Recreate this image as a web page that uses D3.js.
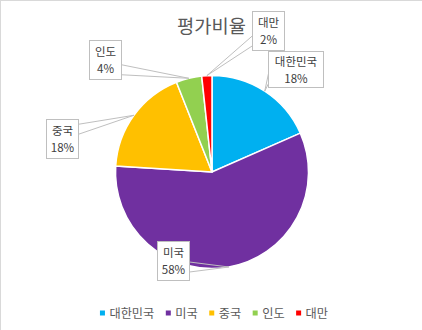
<!DOCTYPE html>
<html>
<head>
<meta charset="utf-8">
<script src="https://cdn.jsdelivr.net/npm/d3@7"></script>
<style>
  body { margin: 0; background: #fff; }
  text { font-family: "Noto Sans CJK KR", "Noto Sans", sans-serif; }
</style>
</head>
<body>
<div id="chart"></div>
<script>
// data
const countries = ['대한민국', '미국', '중국', '인도', '대만']
const shares = [18.4, 57.6, 18.0, 4.3, 1.7]
const colors = ['#00B0F0', '#7030A0', '#FFC000', '#92D050', '#FF0000']
const title = '평가비율'

const width = 422, height = 330
const cx = 212, cy = 172, radius = 96.5

// callout boxes (left, top, width, height), one per slice
const boxes = [
  [268.5, 51.5, 55, 36],
  [157.5, 241.5, 32, 39],
  [46.5, 119.5, 32, 39],
  [89.5, 40.5, 32, 39],
  [252.5, 11.5, 32, 39]
]

const svg = d3.select("#chart")
  .append("svg")
    .attr("width", width)
    .attr("height", height)

// chart area border (only top/left visible in the shot)
svg.append("rect")
  .attr("x", 0.5).attr("y", 0.5)
  .attr("width", width + 5).attr("height", height + 5)
  .attr("fill", "#fff")
  .attr("stroke", "#D9D9D9")

svg.append("text")
  .attr("x", 211.5)
  .attr("y", 33)
  .attr("text-anchor", "middle")
  .attr("font-size", 18.7)
  .attr("fill", "#595959")
  .text(title)

const data = countries.map((c, i) => ({name: c, value: shares[i], color: colors[i], box: boxes[i]}))
const total = d3.sum(shares)

const pie = d3.pie().value(d => d.value).sort(null)
const arcs = pie(data)
const arc = d3.arc().innerRadius(0).outerRadius(radius)

const g = svg.append("g").attr("transform", `translate(${cx},${cy})`)

g.selectAll("path")
  .data(arcs)
  .join("path")
    .attr("d", arc)
    .attr("fill", d => d.data.color)
    .attr("stroke", "#fff")
    .attr("stroke-width", 1.5)

// callouts with a wedge pointing to the slice
const clamp = (v, a, b) => Math.max(a, Math.min(b, v))
arcs.forEach(d => {
  const mid = (d.startAngle + d.endAngle) / 2
  const ax = cx + radius * Math.sin(mid)
  const ay = cy - radius * Math.cos(mid)
  const [bx, by, bw, bh] = d.data.box
  let p1, p2
  if (ax > bx + bw) {
    const c = clamp(ay, by + bh * 0.25, by + bh * 0.75)
    p1 = [bx + bw, c - 5]; p2 = [bx + bw, c + 5]
  } else if (ax < bx) {
    const c = clamp(ay, by + bh * 0.25, by + bh * 0.75)
    p1 = [bx, c - 5]; p2 = [bx, c + 5]
  } else {
    const c = clamp(ax, bx + 6, bx + bw - 6)
    p1 = [c - 6, by + bh]; p2 = [c + 6, by + bh]
  }
  svg.append("path")
    .attr("d", `M${p1[0]},${p1[1]}L${ax},${ay}L${p2[0]},${p2[1]}`)
    .attr("fill", "none")
    .attr("stroke", "#BFBFBF")
    .attr("stroke-width", 1)

  svg.append("rect")
    .attr("x", bx).attr("y", by)
    .attr("width", bw).attr("height", bh)
    .attr("fill", "#fff")
    .attr("stroke", "#BFBFBF")
    .attr("stroke-width", 1)

  const t = svg.append("text")
    .attr("text-anchor", "middle")
    .attr("font-size", 11.5)
    .attr("fill", "#404040")
  t.append("tspan")
    .attr("x", bx + bw / 2).attr("y", by + bh / 2 - 4)
    .text(d.data.name)
  t.append("tspan")
    .attr("x", bx + bw / 2).attr("y", by + bh / 2 + 13)
    .text(Math.round(d.data.value / total * 100) + "%")
})

// legend
const legend = svg.append("g")
let lx = 0
data.forEach(d => {
  const it = legend.append("g").attr("transform", `translate(${lx},0)`)
  it.append("rect")
    .attr("x", 0).attr("y", -2.5)
    .attr("width", 5).attr("height", 5)
    .attr("fill", d.color)
  const tx = it.append("text")
    .attr("x", 9.5).attr("y", 4.5)
    .attr("font-size", 12.2)
    .attr("fill", "#595959")
    .text(d.name)
  lx += 9.5 + tx.node().getComputedTextLength() + 11.5
})
const legendW = lx - 11.5
legend.attr("transform", `translate(${214 - legendW / 2},313)`)
</script>
</body>
</html>
